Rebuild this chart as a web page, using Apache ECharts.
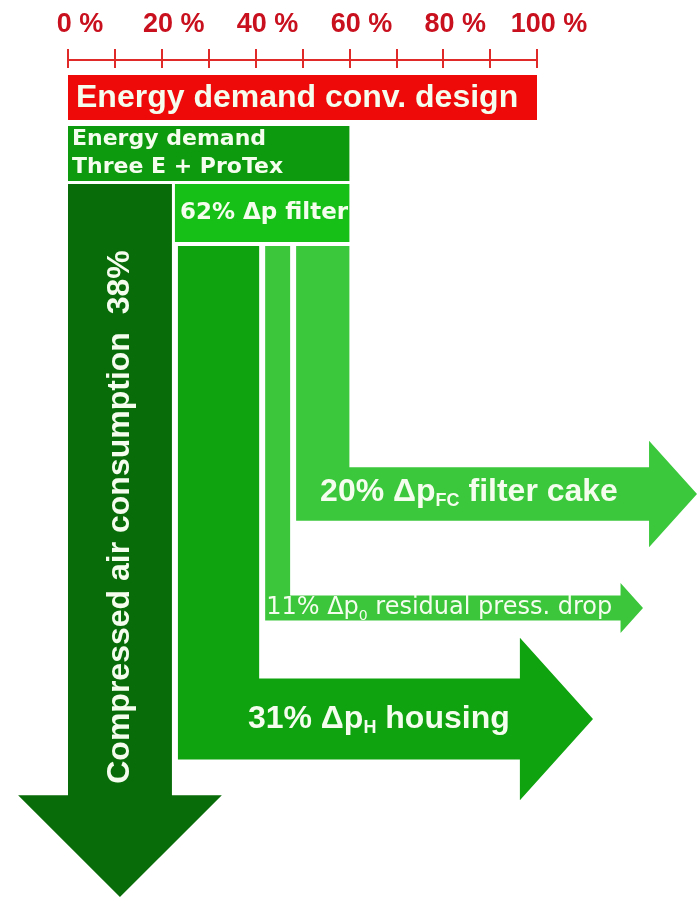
<!DOCTYPE html>
<html>
<head>
<meta charset="utf-8">
<script src="https://cdn.jsdelivr.net/npm/echarts@6/dist/echarts.min.js"></script>
<style>
html,body{margin:0;padding:0;background:#ffffff;}
#c{width:698px;height:897px;}
</style>
</head>
<body>
<div id="c"></div>
<script>
// ---------------- data ----------------
const tickLabels = ['0 %', '20 %', '40 %', '60 %', '80 %', '100 %'];
const conventionalDemand = 100;            // energy demand of conventional design, %
const protexShare = 60;                    // Three E + ProTex demand, % of conventional
const splitNames = ['Compressed air consumption', 'Δp filter'];
const splitShares = [38, 62];              // % of ProTex demand
const filterNames = ['housing', 'residual press. drop', 'filter cake'];
const filterSubs = ['H', '0', 'FC'];
const filterShares = [31, 11, 20];         // % of ProTex demand

// ---------------- derived values (in % of conventional design) ----------------
const protexVal = conventionalDemand * protexShare / 100;
const compVal = protexVal * splitShares[0] / 100;
const housingEnd = compVal + protexVal * filterShares[0] / 100;
const residualEnd = housingEnd + protexVal * filterShares[1] / 100;
const cakeEnd = residualEnd + protexVal * filterShares[2] / 100;

const rows = [
  { kind: 'conv', value: [0, conventionalDemand] },
  { kind: 'protex', value: [0, protexVal] },
  { kind: 'compressed', value: [0, compVal] },
  { kind: 'filter', value: [compVal, protexVal] },
  { kind: 'housing', value: [compVal, housingEnd] },
  { kind: 'residual', value: [housingEnd, residualEnd] },
  { kind: 'cake', value: [residualEnd, cakeEnd] }
];

// ---------------- layout & style ----------------
const L = {
  gap: 3,
  conv: { top: 75, bottom: 120, textY: 98, textDx: 8 },
  protex: { top: 126, bottom: 181, textY: 153, textDx: 4 },
  splitTop: 184,
  filterBottom: 242,
  partsTop: 246,
  compTip: 897, compTextY: 517,
  housing: { cy: 719, tip: 593, textDx: 70 },
  residual: { cy: 608, tip: 643, textDx: 1 },
  cake: { cy: 494, tip: 697, textDx: 24 }
};
const COL = {
  conv: '#ef0a0a', protex: '#0e9a0e', compressed: '#086c08', filter: '#16c016',
  housing: '#0fa30f', residual: '#3cc63c', cake: '#3cc83c',
  text: '#f4fdee', axis: '#e02a2a', axisText: '#c8101e'
};
const ARIAL = '"Liberation Sans", Arial, sans-serif';
const DEJAVU = '"DejaVu Sans", Verdana, sans-serif';

function bigRich(fs) {
  return {
    m: { fontSize: fs, fontWeight: 'bold', fontFamily: ARIAL, fill: COL.text, lineHeight: fs + 4 },
    s: { fontSize: Math.round(fs * 0.55), fontWeight: 'bold', fontFamily: ARIAL, fill: COL.text,
         lineHeight: Math.round(fs * 0.55), verticalAlign: 'bottom' }
  };
}
function smallRich(fs, weight) {
  return {
    m: { fontSize: fs, fontWeight: weight, fontFamily: DEJAVU, fill: COL.text, lineHeight: fs + 6 },
    s: { fontSize: Math.round(fs * 0.6), fontWeight: weight, fontFamily: DEJAVU, fill: COL.text,
         lineHeight: Math.round(fs * 0.6), verticalAlign: 'bottom' }
  };
}
function label(x, y, text, rich, extra) {
  return Object.assign({
    type: 'text', x: x, y: y,
    style: { text: text, rich: rich, fill: COL.text, align: 'left', verticalAlign: 'middle' }
  }, extra || {});
}
function hArrow(xl, xr, spec, color) {
  const t = xr - xl, cy = spec.cy, tip = spec.tip;
  const hs = tip - t * 0.9;
  return {
    type: 'polygon',
    shape: { points: [
      [xl, L.partsTop], [xr, L.partsTop], [xr, cy - t / 2], [hs, cy - t / 2], [hs, cy - t],
      [tip, cy], [hs, cy + t], [hs, cy + t / 2], [xl, cy + t / 2]
    ] },
    style: { fill: color }
  };
}

function renderItem(params, api) {
  const row = rows[params.dataIndex];
  const xa = api.coord([api.value(0), 0])[0];
  const xb = api.coord([api.value(1), 0])[0];
  const g = L.gap;
  const kids = [];
  switch (row.kind) {
    case 'conv':
      kids.push({ type: 'rect', shape: { x: xa, y: L.conv.top, width: xb - xa, height: L.conv.bottom - L.conv.top }, style: { fill: COL.conv } });
      kids.push(label(xa + L.conv.textDx, L.conv.textY, '{m|Energy demand conv. design}', bigRich(32)));
      break;
    case 'protex':
      kids.push({ type: 'rect', shape: { x: xa, y: L.protex.top, width: xb - xa, height: L.protex.bottom - L.protex.top }, style: { fill: COL.protex } });
      kids.push(label(xa + L.protex.textDx, L.protex.textY, '{m|Energy demand}\n{m|Three E + ProTex}', smallRich(22, 'bold')));
      break;
    case 'compressed': {
      const xl = xa, xr = xb - g, w = xr - xl, cx = (xl + xr) / 2;
      const headTop = L.compTip - w * 0.98, ext = w * 0.48;
      kids.push({ type: 'polygon', shape: { points: [
        [xl, L.splitTop], [xr, L.splitTop], [xr, headTop], [xr + ext, headTop],
        [cx, L.compTip], [xl - ext, headTop], [xl, headTop]
      ] }, style: { fill: COL.compressed } });
      const t = label(cx, L.compTextY, '{m|' + splitNames[0] + '  ' + splitShares[0] + '%}', bigRich(32), { rotation: Math.PI / 2 });
      t.style.align = 'center';
      kids.push(t);
      break;
    }
    case 'filter':
      kids.push({ type: 'rect', shape: { x: xa, y: L.splitTop, width: xb - xa, height: L.filterBottom - L.splitTop }, style: { fill: COL.filter } });
      kids.push(label(xa + 5, (L.splitTop + L.filterBottom) / 2, '{m|' + splitShares[1] + '% ' + splitNames[1] + '}', smallRich(23, 'bold')));
      break;
    case 'housing': {
      const xl = xa + g, xr = xb - g;
      kids.push(hArrow(xl, xr, L.housing, COL.housing));
      kids.push(label(xl + L.housing.textDx, L.housing.cy,
        '{m|' + filterShares[0] + '% Δp}{s|' + filterSubs[0] + '}{m| ' + filterNames[0] + '}', bigRich(32)));
      break;
    }
    case 'residual': {
      const xl = xa + g, xr = xb - g;
      kids.push(hArrow(xl, xr, L.residual, COL.residual));
      kids.push(label(xl + L.residual.textDx, L.residual.cy,
        '{m|' + filterShares[1] + '% Δp}{s|' + filterSubs[1] + '}{m| ' + filterNames[1] + '}', smallRich(24, 'normal')));
      break;
    }
    case 'cake': {
      const xl = xa + g, xr = xb;
      kids.push(hArrow(xl, xr, L.cake, COL.cake));
      kids.push(label(xl + L.cake.textDx, L.cake.cy - 2,
        '{m|' + filterShares[2] + '% Δp}{s|' + filterSubs[2] + '}{m| ' + filterNames[2] + '}', bigRich(32)));
      break;
    }
  }
  return { type: 'group', children: kids };
}

const chart = echarts.init(document.getElementById('c'), null, { renderer: 'canvas' });
const axisBase = {
  type: 'value', min: 0, max: 100, interval: 10, position: 'top', gridIndex: 0,
  splitLine: { show: false }
};
chart.setOption({
  backgroundColor: '#ffffff',
  animation: false,
  grid: { left: 68, right: 161, top: 60, bottom: 0, containLabel: false },
  xAxis: [
    Object.assign({}, axisBase, {
      axisLine: { show: true, onZero: false, lineStyle: { color: COL.axis, width: 2 } },
      axisTick: { show: true, length: 11, lineStyle: { color: COL.axis, width: 2 } },
      axisLabel: {
        show: true, interval: 0, hideOverlap: false, margin: 22,
        color: COL.axisText, fontSize: 27, fontWeight: 'bold', fontFamily: ARIAL,
        padding: [0, 0, 0, 24],
        formatter: function (v) { return v % 20 === 0 ? tickLabels[Math.round(v / 20)] : ''; }
      }
    }),
    Object.assign({}, axisBase, {
      axisLine: { show: false, onZero: false },
      axisTick: { show: true, inside: true, length: 8, lineStyle: { color: COL.axis, width: 2 } },
      axisLabel: { show: false }
    })
  ],
  yAxis: { type: 'value', min: 0, max: 1, show: false },
  series: [{
    type: 'custom',
    coordinateSystem: 'cartesian2d',
    xAxisIndex: 0,
    clip: false,
    silent: true,
    renderItem: renderItem,
    encode: { x: [0, 1] },
    data: rows.map(r => r.value)
  }]
});
</script>
</body>
</html>
